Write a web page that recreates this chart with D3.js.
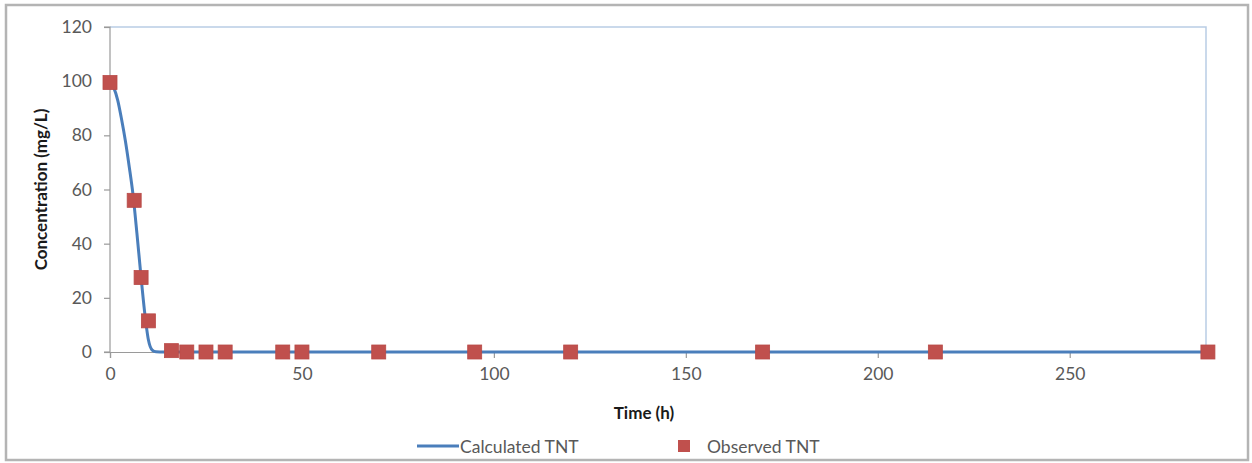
<!DOCTYPE html>
<html>
<head>
<meta charset="utf-8">
<script src="https://cdn.jsdelivr.net/npm/d3@7/dist/d3.min.js"></script>
<style>
  html, body { margin: 0; padding: 0; background: #fff; }
  svg { display: block; }
  text { font-family: Lato, "Open Sans", sans-serif; }
</style>
</head>
<body>
<svg id="chart" width="1252" height="463"></svg>
<script>
// Observed TNT concentrations (mg/L) at sampling times (h)
const obsTime = [0, 6.3, 8.1, 10, 16, 20, 25, 30, 45, 50, 70, 95, 120, 170, 215, 286];
const obsConc = [99.5, 56, 27.5, 11.5, 0.5, 0, 0, 0, 0, 0, 0, 0, 0, 0, 0, 0];

// Calculated TNT curve (model output)
const calcTime = [0, 1, 2, 3, 4, 5, 6, 7, 8, 9, 10, 11, 12, 13, 20, 50, 100, 150, 200, 250, 286];
const calcConc = [100, 97.5, 93, 86, 78, 68.5, 58, 44, 29, 15, 4.5, 0.7, 0.05, 0, 0, 0, 0, 0, 0, 0, 0];

const xTicks = [0, 50, 100, 150, 200, 250];
const yTicks = [0, 20, 40, 60, 80, 100, 120];

const svg = d3.select("#chart");
const W = 1252, H = 463;

// Outer chart frame
svg.append("rect")
  .attr("x", 6).attr("y", 5).attr("width", W - 10).attr("height", H - 8)
  .attr("fill", "#fff").attr("stroke", "#b4b4b4").attr("stroke-width", 2.5);

const plot = { left: 110, top: 27, right: 1206, bottom: 352 };

const x = d3.scaleLinear().domain([0, 285.5]).range([plot.left, plot.right]);
const y = d3.scaleLinear().domain([0, 120]).range([plot.bottom, plot.top]);

// Plot-area border (top and right edges)
svg.append("path")
  .attr("d", `M${plot.left},${plot.top}H${plot.right}V${plot.bottom}`)
  .attr("fill", "none").attr("stroke", "#b9cde5").attr("stroke-width", 1.5);

// Y axis
const yAxis = d3.axisLeft(y).tickValues(yTicks).tickSize(6).tickPadding(12);
const gy = svg.append("g").attr("transform", `translate(${plot.left},0)`).call(yAxis);
// X axis
const xAxis = d3.axisBottom(x).tickValues(xTicks).tickSize(6).tickPadding(10);
const gx = svg.append("g").attr("transform", `translate(0,${plot.bottom})`).call(xAxis);

[gy, gx].forEach(g => {
  g.select(".domain").attr("stroke", "#9a9a9a").attr("stroke-width", 1.2);
  g.selectAll(".tick line").attr("stroke", "#9a9a9a").attr("stroke-width", 1.2);
  g.selectAll(".tick text")
    .attr("fill", "#595959")
    .style("font-family", "Lato, 'Open Sans', sans-serif")
    .style("font-size", "17.5px");
});
gy.select(".domain").attr("d", `M-6,${plot.top}H0V${plot.bottom}H-6`);

// Axis titles
svg.append("text")
  .attr("transform", `translate(47,${(plot.top + plot.bottom) / 2}) rotate(-90)`)
  .attr("text-anchor", "middle")
  .attr("font-size", "17px").attr("font-weight", "bold").attr("fill", "#1a1a1a")
  .text("Concentration (mg/L)");

svg.append("text")
  .attr("x", 644).attr("y", 419)
  .attr("text-anchor", "middle")
  .attr("font-size", "17px").attr("font-weight", "bold").attr("fill", "#1a1a1a")
  .text("Time (h)");

// Calculated curve
const line = d3.line()
  .x((d, i) => x(calcTime[i]))
  .y((d, i) => y(calcConc[i]))
  .curve(d3.curveMonotoneX);

svg.append("path")
  .datum(calcConc)
  .attr("d", line)
  .attr("fill", "none")
  .attr("stroke", "#4a7ebb")
  .attr("stroke-width", 3);

// Observed markers
const ms = 14;
svg.append("g").selectAll("rect")
  .data(obsConc)
  .join("rect")
  .attr("x", (d, i) => x(obsTime[i]) - ms / 2)
  .attr("y", d => y(d) - ms / 2)
  .attr("width", ms).attr("height", ms)
  .attr("fill", "#c0504d")
  .attr("stroke", "#b84a47").attr("stroke-width", 0.8);

// Legend
const lg = svg.append("g");
lg.append("line")
  .attr("x1", 417).attr("x2", 459).attr("y1", 446).attr("y2", 446)
  .attr("stroke", "#4a7ebb").attr("stroke-width", 3);
lg.append("text")
  .attr("x", 460).attr("y", 452.5)
  .attr("font-size", "17.5px").attr("fill", "#595959")
  .text("Calculated TNT");
lg.append("rect")
  .attr("x", 678).attr("y", 440).attr("width", 12).attr("height", 12)
  .attr("fill", "#c0504d");
lg.append("text")
  .attr("x", 707).attr("y", 452.5)
  .attr("font-size", "17.5px").attr("fill", "#595959")
  .text("Observed TNT");
</script>
</body>
</html>
